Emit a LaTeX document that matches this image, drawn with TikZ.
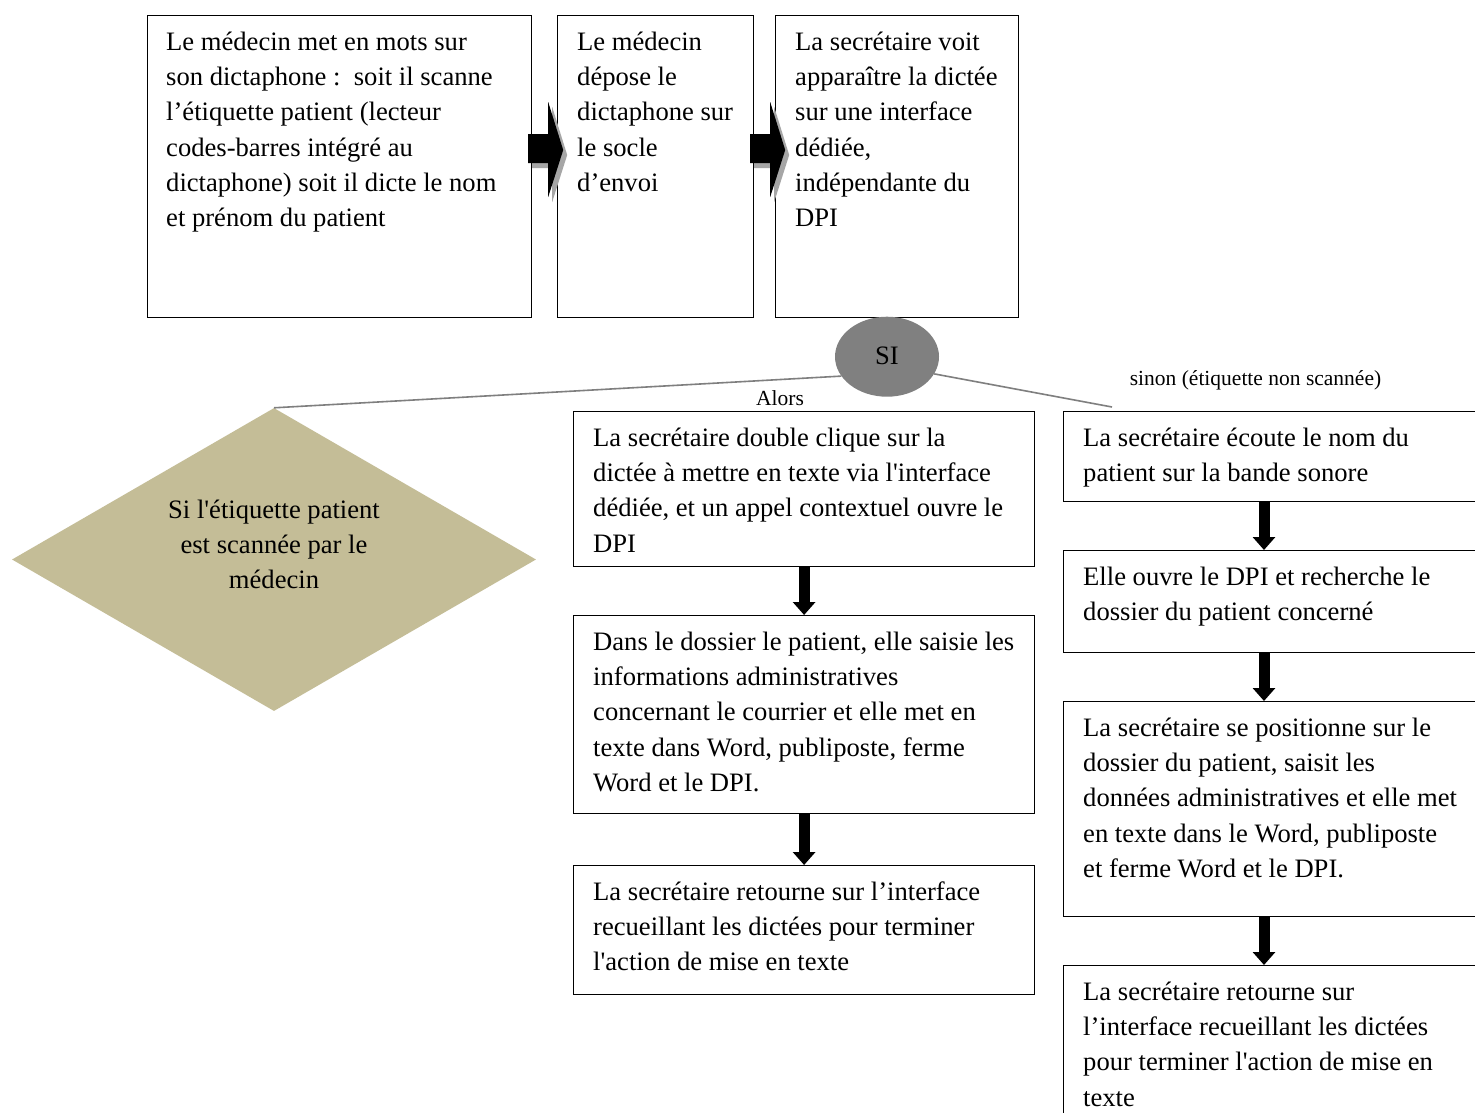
\documentclass[tikz,border=0pt]{standalone}
\usepackage{fontspec}
\setmainfont{Liberation Serif}[Ligatures=TeXOff]
\usetikzlibrary{shapes.geometric,arrows.meta,calc}
\definecolor{tanfill}{HTML}{C4BD97}
\definecolor{sigray}{HTML}{808080}
\definecolor{linegray}{HTML}{7F7F7F}
\definecolor{shadowgray}{HTML}{A6A6A6}
\newcommand\fl{\rule{0pt}{24pt}}
\tikzset{
  stepbox/.style={draw=black, line width=1.2pt, rectangle, inner sep=0pt, anchor=north west},
  txt/.style={anchor=north west, inner sep=0pt, align=left, font=\fontsize{26.6}{35.3}\selectfont},
  downarr/.style={line width=11pt, -{Triangle[width=22pt,length=13pt]}},
  conn/.style={draw=linegray, line width=1.6pt},
  smalltxt/.style={font=\fontsize{21.5}{26}\selectfont, anchor=base, inner sep=0pt},
  blockarr/.pic={
    \fill[shadowgray] (4,-10) -- (24,-10) -- (24,-42) -- (39,6) -- (24,53) -- (24,19) -- (4,19) -- cycle;
    \fill[black] (0,-15) -- (20,-15) -- (20,-47) -- (35,1) -- (20,48) -- (20,14) -- (0,14) -- cycle;
  }
}
\begin{document}
\begin{tikzpicture}[x=1pt,y=-1pt]
\useasboundingbox (0,0) rectangle (1475,1112);
\clip (0,0) rectangle (1475,1112);
\fill[white] (0,0) rectangle (1475,1112);

% top row
\node[stepbox, minimum width=384, minimum height=302] (a) at (147,15) {};
\node[stepbox, minimum width=196, minimum height=302] (b) at (557,15) {};
\node[stepbox, minimum width=243, minimum height=302] (c) at (775,15) {};
\node[txt] (ta) at ($(a.north west)+(19,11)$) {\fl Le médecin met en mots sur\\son dictaphone :~~soit il scanne\\l’étiquette patient (lecteur\\codes-barres intégré au\\dictaphone) soit il dicte le nom\\et prénom du patient};
\node[txt] (tb) at ($(b.north west)+(20,11)$) {\fl Le médecin\\dépose le\\dictaphone sur\\le socle\\d’envoi};
\node[txt] (tc) at ($(c.north west)+(20,11)$) {\fl La secrétaire voit\\apparaître la dictée\\sur une interface\\dédiée,\\indépendante du\\DPI};
\pic at ($(a.north east)+(-4,134)$) {blockarr};
\pic at ($(b.north east)+(-4,134)$) {blockarr};

% decision
\node[diamond, fill=tanfill, minimum width=524, minimum height=303, inner sep=0pt] (dia) at (274,559.5) {};
\node[anchor=north, inner sep=0pt, align=center, font=\fontsize{26.6}{35.3}\selectfont] (tdia) at ($(dia.north)+(0,86)$) {\fl Si l'étiquette patient\\est scannée par le\\médecin};

\coordinate (sinonend) at (1112,407);
\node[ellipse, fill=sigray, minimum width=104, minimum height=80, inner sep=0pt, font=\fontsize{26.6}{32}\selectfont] (si) at (887,356.7) {\raisebox{2.5pt}{SI}};
\draw[conn] (si.203) -- (dia.north);
\draw[conn] (si.340) -- (sinonend);

\node[smalltxt] (alors) at (780,405) {Alors};
\node[smalltxt] (sinon) at (1255.5,385) {sinon (étiquette non scannée)};

% middle column
\node[stepbox, minimum width=461, minimum height=155] (m1) at (573,411) {};
\node[stepbox, minimum width=461, minimum height=198] (m2) at (573,615) {};
\node[stepbox, minimum width=461, minimum height=129] (m3) at (573,865) {};
\node[txt] (tm1) at ($(m1.north west)+(20,11)$) {\fl La secrétaire double clique sur la\\dictée à mettre en texte via l'interface\\dédiée, et un appel contextuel ouvre le\\DPI};
\node[txt] (tm2) at ($(m2.north west)+(20,11)$) {\fl Dans le dossier le patient, elle saisie les\\informations administratives\\concernant le courrier et elle met en\\texte dans Word, publiposte, ferme\\Word et le DPI.};
\node[txt] (tm3) at ($(m3.north west)+(20,11)$) {\fl La secrétaire retourne sur l’interface\\recueillant les dictées pour terminer\\l'action de mise en texte};
\draw[downarr] (m1.south) -- (m2.north);
\draw[downarr] (m2.south) -- (m3.north);

% right column
\node[stepbox, minimum width=425, minimum height=90] (r1) at (1063,411) {};
\node[stepbox, minimum width=425, minimum height=102] (r2) at (1063,550) {};
\node[stepbox, minimum width=425, minimum height=215] (r3) at (1063,701) {};
\node[stepbox, minimum width=425, minimum height=170] (r4) at (1063,965) {};
\node[txt] (tr1) at ($(r1.north west)+(20,11)$) {\fl La secrétaire écoute le nom du\\patient sur la bande sonore};
\node[txt] (tr2) at ($(r2.north west)+(20,11)$) {\fl Elle ouvre le DPI et recherche le\\dossier du patient concerné};
\node[txt] (tr3) at ($(r3.north west)+(20,11)$) {\fl La secrétaire se positionne sur le\\dossier du patient, saisit les\\données administratives et elle met\\en texte dans le Word, publiposte\\et ferme Word et le DPI.};
\node[txt] (tr4) at ($(r4.north west)+(20,11)$) {\fl La secrétaire retourne sur\\l’interface recueillant les dictées\\pour terminer l'action de mise en\\texte};
\draw[downarr] ($(r1.south west)+(201,0)$) -- ($(r2.north west)+(201,0)$);
\draw[downarr] ($(r2.south west)+(201,0)$) -- ($(r3.north west)+(201,0)$);
\draw[downarr] ($(r3.south west)+(201,0)$) -- ($(r4.north west)+(201,0)$);
\end{tikzpicture}
\end{document}
